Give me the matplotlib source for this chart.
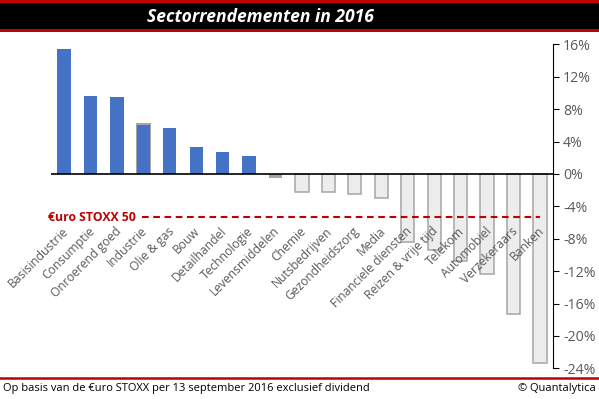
import matplotlib.pyplot as plt
import numpy as np

# sectorrendementen 2016 (in %)
sectoren = ["Basisindustrie", "Consumptie", "Onroerend goed", "Industrie", "Olie & gas",
            "Bouw", "Detailhandel", "Technologie", "Levensmiddelen", "Chemie",
            "Nutsbedrijven", "Gezondheidszorg", "Media", "Financiele diensten",
            "Reizen & vrije tijd", "Telekom", "Automobiel", "Verzekeraars", "Banken"]
rendement = [15.4, 9.6, 9.45, 6.1, 5.65, 3.3, 2.7, 2.2, -0.45, -2.2,
             -2.2, -2.5, -3.0, -8.45, -9.4, -10.8, -12.35, -17.3, -23.3]
stoxx50 = -5.35
yticks = [16, 12, 8, 4, 0, -4, -8, -12, -16, -20, -24]

blauw = "#4472C4"
licht = "#EDEDED"
rand = "#A5A5A5"
rood = "#C00000"
grijs = "#595959"

plt.rcParams['font.family'] = ['Open Sans', 'DejaVu Sans']

fig = plt.figure(figsize=(5.99, 3.99), dpi=100)

# header balk
fig.patches.append(plt.Rectangle((0, 1 - 31.5 / 399), 1, 31.5 / 399, transform=fig.transFigure,
                                 facecolor=rood, edgecolor="none"))
fig.patches.append(plt.Rectangle((0, 1 - 29 / 399), 1, 26.3 / 399, transform=fig.transFigure,
                                 facecolor="black", edgecolor="none"))
fig.text(0.434, 1 - 16.5 / 399, "Sectorrendementen in 2016", color="white", fontsize=12.6,
         fontweight="bold", fontstyle="italic", ha="center", va="center")

# footer
fig.add_artist(plt.Line2D([0, 1], [1 - 378.3 / 399] * 2, color=rood, lw=1.8,
                          transform=fig.transFigure))
fig.text(0.005, 1 - 389 / 399, "Op basis van de €uro STOXX per 13 september 2016 exclusief dividend",
         fontsize=8.0, ha="left", va="center")
fig.text(0.995, 1 - 389 / 399, "© Quantalytica", fontsize=8.0, ha="right", va="center")

ax = fig.add_axes([0.0848, 0.0769, 0.8387, 0.812])
for i, v in enumerate(rendement):
    if v >= 0:
        if sectoren[i] == "Industrie":
            # geselecteerde balk: grijze rand achter de blauwe balk
            ax.bar(i, v + 0.2, width=0.56, color=rand, linewidth=0, zorder=1.9)
        ax.bar(i, v, width=0.5, color=blauw, linewidth=0, zorder=2)
    elif abs(v) < 1:
        ax.bar(i, v, width=0.5, color=rand, linewidth=0, zorder=2)
    else:
        ax.bar(i, v, width=0.5, facecolor=licht, edgecolor=rand, linewidth=1.1, zorder=2)

ax.set_xlim(-0.5, len(sectoren) - 0.5)
ax.set_ylim(-24, 16)
ax.axhline(0, color="black", lw=1.2, zorder=3)

# euro stoxx 50 lijn
ax.plot([2.95, len(sectoren) - 1], [stoxx50, stoxx50], color=rood, lw=1.5,
        ls=(0, (3.2, 2.2)), zorder=4)
ax.text(2.7, stoxx50, "€uro STOXX 50", color=rood, fontsize=8.8, fontweight="bold",
        ha="right", va="center", zorder=5)

# categorielabels
for i, s in enumerate(sectoren):
    ax.text(i + 0.08, -6.8, s, rotation=45, rotation_mode="anchor", ha="right", va="center",
            fontsize=8.7, color=grijs, zorder=5)

for k in ["top", "left", "bottom"]:
    ax.spines[k].set_visible(False)
ax.spines["right"].set_color("black")
ax.yaxis.tick_right()
ax.set_yticks(yticks)
ax.set_yticklabels([f"{t}%" for t in yticks])
ax.tick_params(axis="y", direction="out", length=4, color="black", labelcolor=grijs,
               labelsize=10.2, pad=3)
ax.set_xticks([])

fig.savefig("out.png", dpi=100)
